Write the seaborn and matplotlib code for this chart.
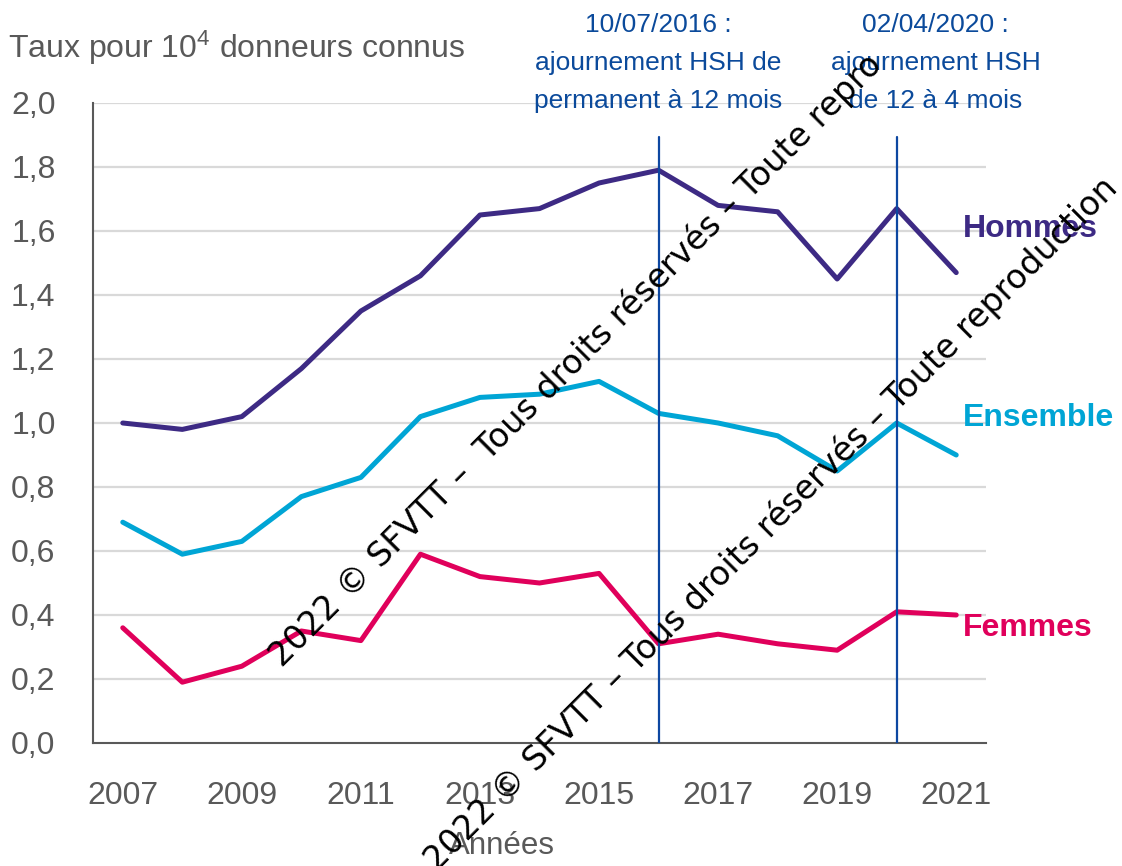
import matplotlib
matplotlib.use("Agg")
import matplotlib.pyplot as plt
import seaborn as sns
import pandas as pd
import numpy as np

years = [2007, 2008, 2009, 2010, 2011, 2012, 2013, 2014, 2015, 2016, 2017, 2018, 2019, 2020, 2021]
hommes = [1.00, 0.98, 1.02, 1.17, 1.35, 1.46, 1.65, 1.67, 1.75, 1.79, 1.68, 1.66, 1.45, 1.67, 1.47]
ensemble = [0.69, 0.59, 0.63, 0.77, 0.83, 1.02, 1.08, 1.09, 1.13, 1.03, 1.00, 0.96, 0.85, 1.00, 0.90]
femmes = [0.36, 0.19, 0.24, 0.35, 0.32, 0.59, 0.52, 0.50, 0.53, 0.31, 0.34, 0.31, 0.29, 0.41, 0.40]
series_names = ["Hommes", "Ensemble", "Femmes"]
colors = {"Hommes": "#3d2a84", "Ensemble": "#00a5d5", "Femmes": "#e0005b"}
events = [2016, 2020]
event_labels = ["10/07/2016 :\najournement HSH de\npermanent à 12 mois",
                "02/04/2020 :\najournement HSH\nde 12 à 4 mois"]
watermarks = ["2022 © SFVTT –  Tous droits réservés – Toute repro",
              "2022 © SFVTT – Tous droits réservés – Toute reproduction"]

rows = []
for name, vals in zip(series_names, [hommes, ensemble, femmes]):
    for i, (yr, v) in enumerate(zip(years, vals)):
        rows.append({"idx": i, "Année": yr, "Taux": v, "Série": name})
df = pd.DataFrame(rows)

sns.set_theme(style="white")
plt.rcParams["font.family"] = ["Liberation Sans", "DejaVu Sans"]
plt.rcParams["mathtext.fontset"] = "custom"
plt.rcParams["mathtext.rm"] = "Liberation Sans"
plt.rcParams["mathtext.default"] = "regular"

grey = "#595959"
fig = plt.figure(figsize=(11.22, 8.66), dpi=100)
ax = fig.add_axes([93 / 1122, 123 / 866, 893 / 1122, 640 / 866])

for yv in np.arange(0.2, 2.01, 0.2):
    ax.axhline(yv, color="#d9d9d9", lw=1.6, zorder=0)

sns.lineplot(data=df, x="idx", y="Taux", hue="Série", palette=colors,
             lw=3.6, legend=False, ax=ax, zorder=3, solid_capstyle="round")

for yr in events:
    ax.axvline(years.index(yr), ymin=0, ymax=0.947, color="#0d47a1", lw=1.6, zorder=4)

ax.set_xlim(-0.5, len(years) - 0.5)
ax.set_ylim(0, 2.0)
ax.set_yticks(np.arange(0, 2.01, 0.2))
ax.set_yticklabels([f"{v:.1f}".replace(".", ",") for v in np.arange(0, 2.01, 0.2)])
ax.set_xticks(np.arange(-0.5, len(years), 1.0))
ax.set_xticklabels([])
ax.set_xticks(range(0, len(years), 2), minor=True)
ax.set_xticklabels([str(y) for y in years[::2]], minor=True)
ax.tick_params(axis="x", which="major", length=11, width=1.5, color=grey, direction="out")
ax.tick_params(axis="x", which="minor", length=0, pad=27, labelsize=23, labelcolor=grey)
ax.tick_params(axis="y", length=11, width=1.5, color=grey, direction="out", pad=16,
               labelsize=23, labelcolor=grey)
for s in ["top", "right"]:
    ax.spines[s].set_visible(False)
for s in ["left", "bottom"]:
    ax.spines[s].set_color(grey)
    ax.spines[s].set_linewidth(1.5)

ax.set_xlabel("")
ax.set_ylabel("")
fig.text(502 / 1122, 1 - 846 / 866, "Années", fontsize=22.5, color=grey,
         ha="center", va="center")
fig.text(8 / 1122, 1 - 58 / 866, r"Taux pour 10$^{4}$ donneurs connus",
         fontsize=23, color=grey, ha="left", va="baseline")

for yr, lab in zip(events, event_labels):
    xc = years.index(yr) + (0 if yr == 2016 else 0.65)
    ax.text(xc, 2.125, lab, ha="center", va="center", fontsize=19,
            color="#0b4a9b", linespacing=1.74, clip_on=False)

label_y = {"Hommes": 1.606, "Ensemble": 1.016, "Femmes": 0.36}
for name in series_names:
    ax.text(14.11, label_y[name], name, color=colors[name],
            fontsize=23, fontweight="bold", ha="left", va="center", clip_on=False)

fig.text(282 / 1122, 1 - 668 / 866, watermarks[0], rotation=45, rotation_mode="anchor",
         ha="left", va="baseline", fontsize=24, color="black", family="DejaVu Sans", zorder=10)
fig.text(437 / 1122, 1 - 872 / 866, watermarks[1], rotation=45, rotation_mode="anchor",
         ha="left", va="baseline", fontsize=24, color="black", family="DejaVu Sans", zorder=10)

fig.savefig("out.png", dpi=100)
